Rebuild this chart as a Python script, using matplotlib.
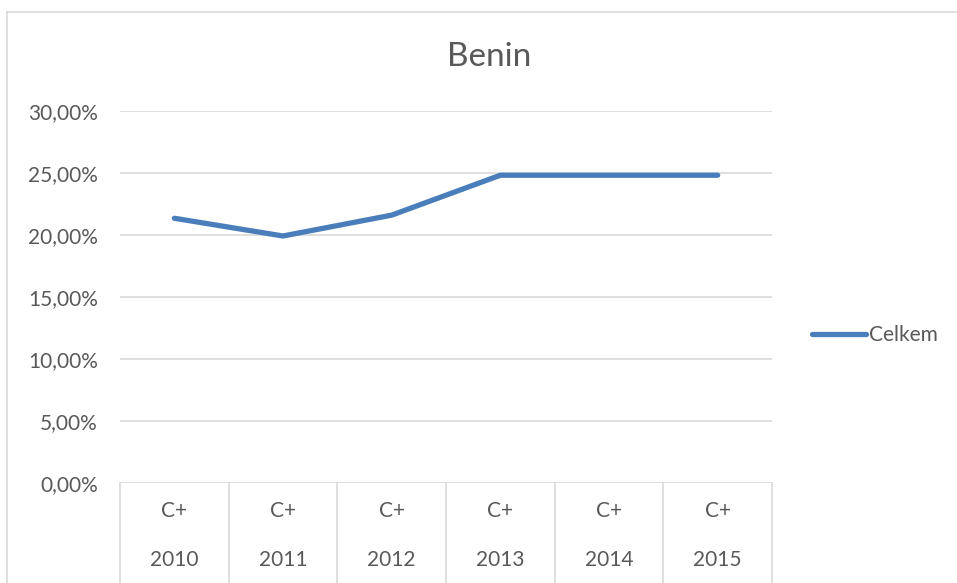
import matplotlib
matplotlib.use("Agg")
import matplotlib.pyplot as plt
from matplotlib.lines import Line2D
from matplotlib.transforms import blended_transform_factory

years = ["2010", "2011", "2012", "2013", "2014", "2015"]
grades = ["C+", "C+", "C+", "C+", "C+", "C+"]
celkem = [0.2135, 0.1992, 0.2160, 0.2482, 0.2482, 0.2482]
yticks = [0.0, 0.05, 0.10, 0.15, 0.20, 0.25, 0.30]
title = "Benin"
series_name = "Celkem"

plt.rcParams['font.family'] = ['Lato', 'DejaVu Sans']
txt = "#595959"
grid = "#D9D9D9"
lc = "#4A7EBB"
fs = 15

W, H = 957, 583
fig = plt.figure(figsize=(W / 100, H / 100), dpi=100)

# outer chart border
fig.add_artist(Line2D([7 / W, 7 / W], [0, 1 - 12 / H], color=grid, lw=1.2, transform=fig.transFigure))
fig.add_artist(Line2D([7 / W, 1], [1 - 12 / H, 1 - 12 / H], color=grid, lw=1.2, transform=fig.transFigure))

x0, x1, yt, yb = 120, 772, 111, 483
ax = fig.add_axes([x0 / W, 1 - yb / H, (x1 - x0) / W, (yb - yt) / H])
n = len(years)
xs = [i + 0.5 for i in range(n)]
ax.plot(xs, celkem, color=lc, lw=3.8, solid_capstyle='round', solid_joinstyle='round', label=series_name, zorder=3)
ax.set_xlim(0, n)
ax.set_ylim(0, 0.30)
ax.set_yticks(yticks)
ax.set_yticklabels([f"{v*100:.2f}%".replace(".", ",") for v in yticks], color=txt, fontsize=fs)
ax.tick_params(axis='y', length=0, pad=16)
ax.set_xticks([])
for s in ax.spines.values():
    s.set_visible(False)
ax.grid(axis='y', color=grid, lw=1.2)
ax.set_axisbelow(True)

tr = blended_transform_factory(ax.transData, ax.transAxes)
depth = (583 - yb) / (yb - yt)
for i in range(n + 1):
    ax.add_artist(Line2D([i, i], [0, -depth], color=grid, lw=1.2, transform=tr, clip_on=False))
for i in range(n):
    ax.text(i + 0.5, -(511 - yb) / (yb - yt), grades[i], transform=tr, ha='center', va='center', color=txt, fontsize=fs)
    ax.text(i + 0.5, -(560 - yb) / (yb - yt), years[i], transform=tr, ha='center', va='center', color=txt, fontsize=fs)

fig.text(489 / W, 1 - 57 / H, title, ha='center', va='center', color=txt, fontsize=24)

leg = ax.legend(loc='center left', bbox_to_anchor=(812 / W, 1 - 335 / H), bbox_transform=fig.transFigure,
                frameon=False, fontsize=fs, handlelength=2.6, handletextpad=0.15, borderpad=0, borderaxespad=0)
for t in leg.get_texts():
    t.set_color(txt)

fig.savefig("out.png", dpi=100)
